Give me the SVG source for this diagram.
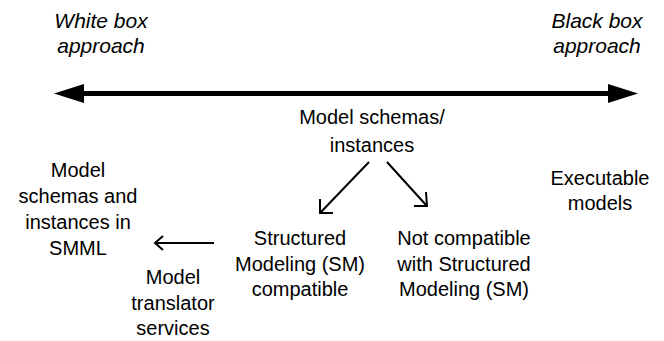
<svg xmlns="http://www.w3.org/2000/svg" width="664" height="341" viewBox="0 0 664 341">
<defs>
<style>
text{font-family:"Liberation Sans",Arial,sans-serif;font-size:20px;fill:#000;text-anchor:middle}
.it{font-style:italic;font-size:21px}
.ln{stroke:#000;fill:none}
.open{stroke:#000;stroke-width:2;fill:none}
</style>
</defs>
<rect width="664" height="341" fill="#fff"/>
<g id="labels">
<text class="it" x="101" y="28">White box</text>
<text class="it" x="101" y="53">approach</text>
<text class="it" x="597" y="28">Black box</text>
<text class="it" x="597" y="53">approach</text>
</g>
<g id="connectors">
<line class="ln" x1="82" y1="93.5" x2="610" y2="93.5" stroke-width="5"/>
<path d="M54,93.5 L84,84 L84,103 Z"/>
<path d="M638,93.5 L608,84 L608,103 Z"/>
<line class="open" x1="369" y1="162" x2="321" y2="212"/>
<path class="open" d="M320,199 L320,213 L333,213"/>
<line class="open" x1="387" y1="162" x2="426" y2="205"/>
<path class="open" d="M426,192 L427,206 L414,206"/>
<line class="open" x1="214" y1="243" x2="156" y2="243"/>
<path class="open" d="M163,236 L155,243 L163,250"/>
</g>
<g id="n-model-schemas">
<text x="372" y="124">Model schemas/</text>
<text x="372" y="152">instances</text>
</g>
<g id="n-smml">
<text x="78" y="177">Model</text>
<text x="78" y="203">schemas and</text>
<text x="78" y="229">instances in</text>
<text x="78" y="255">SMML</text>
</g>
<g id="n-translator">
<text x="173" y="284">Model</text>
<text x="173" y="310">translator</text>
<text x="173" y="335">services</text>
</g>
<g id="n-sm-compatible">
<text x="300" y="245">Structured</text>
<text x="300" y="271">Modeling (SM)</text>
<text x="300" y="296">compatible</text>
</g>
<g id="n-not-compatible">
<text x="464" y="245">Not compatible</text>
<text x="464" y="271">with Structured</text>
<text x="464" y="296">Modeling (SM)</text>
</g>
<g id="n-executable">
<text x="600" y="185">Executable</text>
<text x="600" y="210">models</text>
</g>
</svg>
